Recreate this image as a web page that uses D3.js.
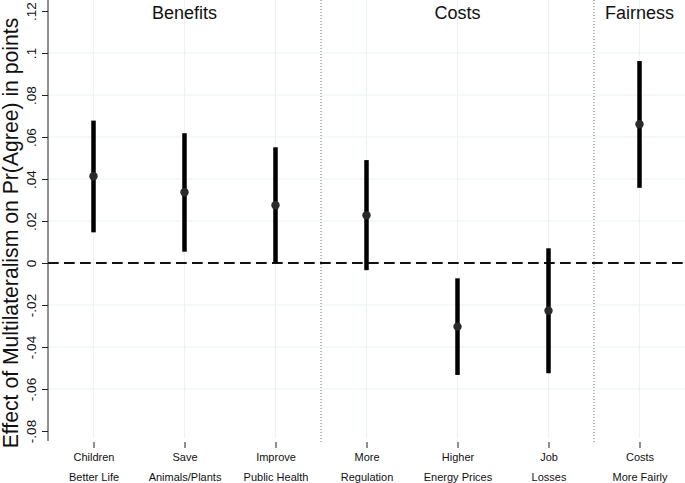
<!DOCTYPE html>
<html><head><meta charset="utf-8">
<script src="https://cdn.jsdelivr.net/npm/d3@7"></script>
<style>body{margin:0;background:#fff}svg{display:block;font-family:"Liberation Sans",Arial,sans-serif}</style>
</head><body>
<script>
const categoriesTop = ["Children","Save","Improve","More","Higher","Job","Costs"];
const categoriesBottom = ["Better Life","Animals/Plants","Public Health","Regulation","Energy Prices","Losses","More Fairly"];
const estimates = [0.0413, 0.0337, 0.0275, 0.0227, -0.0303, -0.0227, 0.0661];
const lower = [0.0146, 0.0054, 0.0000, -0.0034, -0.0533, -0.0525, 0.0358];
const upper = [0.0678, 0.0618, 0.0551, 0.0490, -0.0073, 0.0070, 0.0962];
const groups = ["Benefits","Costs","Fairness"];
const groupCenters = [2, 5, 7];
const separators = [3.5, 6.5];
const yTicks = [-0.08,-0.06,-0.04,-0.02,0,0.02,0.04,0.06,0.08,0.1,0.12];
const yTickLabels = ["-.08","-.06","-.04","-.02","0",".02",".04",".06",".08",".1",".12"];

const W = 685, H = 483;
const svg = d3.select("body").append("svg").attr("width", W).attr("height", H);
const x = d3.scaleLinear().domain([0.5, 7.5]).range([48, 685]);
const y = d3.scaleLinear().domain([-0.08, 0.12]).range([431, 11]);
const plotTop = 0, plotBottom = 441;
const grid = "#eaf2f3";

// horizontal grid
svg.append("g").selectAll("line").data(yTicks.filter((d,i)=>i>0 && i<yTicks.length-1)).join("line")
  .attr("x1", 48).attr("x2", W).attr("y1", d=>y(d)).attr("y2", d=>y(d))
  .attr("stroke", grid).attr("stroke-width", 1.2);
// vertical grid
svg.append("g").selectAll("line").data(d3.range(1, 8)).join("line")
  .attr("x1", d=>x(d)).attr("x2", d=>x(d)).attr("y1", plotTop).attr("y2", 438)
  .attr("stroke", grid).attr("stroke-width", 1.2);

// separators
svg.append("g").selectAll("line").data(separators).join("line")
  .attr("x1", d=>x(d)).attr("x2", d=>x(d)).attr("y1", plotTop).attr("y2", 443)
  .attr("stroke", "#777").attr("stroke-width", 1).attr("stroke-dasharray", "1,2");

// zero line
svg.append("line").attr("x1", 48).attr("x2", W).attr("y1", y(0)).attr("y2", y(0))
  .attr("stroke", "#111").attr("stroke-width", 1.8).attr("stroke-dasharray", "10.7,5.3");

// y axis
const yAxis = d3.axisLeft(y).tickValues(yTicks).tickSize(6).tickFormat((d,i)=>yTickLabels[i]);
const gy = svg.append("g").attr("transform", "translate(48,0)").call(yAxis);
gy.select(".domain").attr("d", `M0,${plotTop}V${plotBottom}`).attr("stroke", "#222");
gy.selectAll(".tick line").attr("stroke", "#222");
gy.selectAll(".tick text").attr("x", null).attr("dy", null)
  .attr("transform", "translate(-12,0) rotate(-90)")
  .attr("text-anchor", "middle").attr("font-size", 13.5).attr("fill", "#111")
  .attr("font-family", "Liberation Sans, Arial, sans-serif");

// x axis (no domain line)
const xAxis = d3.axisBottom(x).tickValues(d3.range(1, 8)).tickSize(6).tickFormat("");
const gx = svg.append("g").attr("transform", "translate(0,442)").call(xAxis);
gx.select(".domain").remove();
gx.selectAll(".tick line").attr("stroke", "#222");
gx.selectAll(".tick").append("text").attr("y", 18.5).attr("text-anchor", "middle")
  .attr("font-size", 11).attr("fill", "#111").attr("font-family", "Liberation Sans, Arial, sans-serif")
  .text((d,i)=>categoriesTop[i]);
gx.selectAll(".tick").append("text").attr("y", 38.5).attr("text-anchor", "middle")
  .attr("font-size", 11).attr("fill", "#111").attr("font-family", "Liberation Sans, Arial, sans-serif")
  .text((d,i)=>categoriesBottom[i]);

// y title
svg.append("text").attr("transform", `translate(18,233) rotate(-90)`)
  .attr("text-anchor", "middle").attr("font-size", 21.2).attr("fill", "#111")
  .text("Effect of Multilateralism on Pr(Agree) in points");

// group titles
svg.append("g").selectAll("text").data(groups).join("text")
  .attr("x", (d,i)=>x(groupCenters[i])).attr("y", 18.5).attr("text-anchor", "middle")
  .attr("font-size", 18).attr("fill", "#111").text(d=>d);

// error bars
svg.append("g").selectAll("line").data(estimates).join("line")
  .attr("x1", (d,i)=>x(i+1)).attr("x2", (d,i)=>x(i+1))
  .attr("y1", (d,i)=>y(upper[i])).attr("y2", (d,i)=>y(lower[i]))
  .attr("stroke", "#000").attr("stroke-width", 4.5);
// points
svg.append("g").selectAll("circle").data(estimates).join("circle")
  .attr("cx", (d,i)=>x(i+1)).attr("cy", d=>y(d)).attr("r", 4.2)
  .attr("fill", "#2a2a2a");
</script>
</body></html>
